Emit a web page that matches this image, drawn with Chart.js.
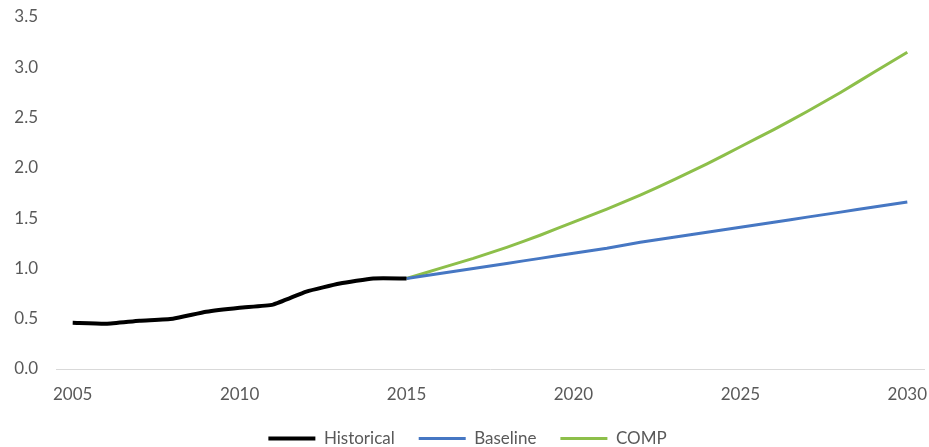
<!DOCTYPE html>
<html>
<head>
<meta charset="utf-8">
<script src="https://cdn.jsdelivr.net/npm/chart.js@4.4.1/dist/chart.umd.min.js"></script>
<style>
  html, body { margin: 0; padding: 0; background: #ffffff; }
  #wrap { width: 929px; height: 447px; }
</style>
</head>
<body>
<div id="wrap"><canvas id="chart" width="929" height="447"></canvas></div>
<script>
// years on the category axis
const years = [2005, 2006, 2007, 2008, 2009, 2010, 2011, 2012, 2013, 2014, 2015,
  2016, 2017, 2018, 2019, 2020, 2021, 2022, 2023, 2024, 2025, 2026, 2027, 2028, 2029, 2030];

// series (null where a series has no value)
const historical = [0.46, 0.45, 0.48, 0.50, 0.57, 0.61, 0.64, 0.77, 0.85, 0.90, 0.90,
  null, null, null, null, null, null, null, null, null, null, null, null, null, null, null];
const baseline = [null, null, null, null, null, null, null, null, null, null, 0.90,
  0.95, 1.00, 1.05, 1.10, 1.15, 1.20, 1.26, 1.31, 1.36, 1.41, 1.46, 1.51, 1.56, 1.61, 1.66];
const comp = [null, null, null, null, null, null, null, null, null, null, 0.90,
  1.00, 1.10, 1.21, 1.33, 1.46, 1.59, 1.73, 1.88, 2.04, 2.21, 2.38, 2.56, 2.75, 2.95, 3.15];

const yTicks = [0, 0.5, 1, 1.5, 2, 2.5, 3, 3.5];

const textColor = '#595959';
const fontFamily = 'Lato, "Open Sans", sans-serif';

const ctx = document.getElementById('chart').getContext('2d');
new Chart(ctx, {
  type: 'line',
  data: {
    labels: years,
    datasets: [
      { label: 'Historical', data: historical, borderColor: '#000000', backgroundColor: '#000000', borderWidth: 4 },
      { label: 'Baseline', data: baseline, borderColor: '#4677c3', backgroundColor: '#4677c3', borderWidth: 3 },
      { label: 'COMP', data: comp, borderColor: '#8dbf4a', backgroundColor: '#8dbf4a', borderWidth: 3 },
    ]
  },
  options: {
    responsive: false,
    animation: false,
    // negative bottom so the legend sits as low as in the original
    layout: { padding: { left: 11, right: 5, top: 0, bottom: -10 } },
    datasets: {
      line: { pointRadius: 0, tension: 0.15 }
    },
    plugins: {
      tooltip: { enabled: false },
      legend: {
        position: 'bottom',
        labels: {
          color: textColor,
          font: { family: fontFamily, size: 17 },
          usePointStyle: true,
          pointStyle: 'line',
          pointStyleWidth: 47,
          padding: 24
        }
      }
    },
    scales: {
      x: {
        offset: true,
        grid: { display: false, drawTicks: false },
        border: { display: true, color: '#d9d9d9', width: 1 },
        ticks: {
          color: textColor,
          font: { family: fontFamily, size: 17 },
          autoSkip: false,
          maxRotation: 0,
          padding: 15,
          callback: function (value, index) {
            const y = years[index];
            return y % 5 === 0 ? String(y) : null;
          }
        },
        afterFit: function (scale) {
          scale.height = 37;
          scale.paddingLeft = 0;
          scale.paddingRight = 0;
        }
      },
      y: {
        min: 0,
        max: 3.5,
        grid: { display: false, drawTicks: false },
        border: { display: false },
        afterBuildTicks: function (scale) {
          scale.ticks = yTicks.map(v => ({ value: v }));
        },
        ticks: {
          color: textColor,
          font: { family: fontFamily, size: 17 },
          padding: 18,
          callback: v => v.toFixed(1)
        },
        afterFit: function (scale) {
          scale.width = 45;
          scale.paddingTop = 17;
          scale.paddingBottom = 10;
        }
      }
    }
  }
});
</script>
</body>
</html>
